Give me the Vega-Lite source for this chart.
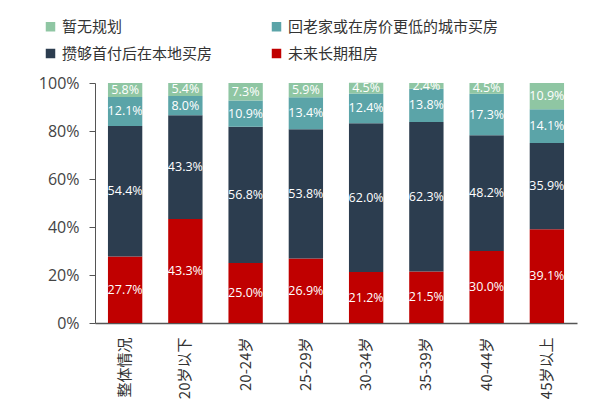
{
  "$schema": "https://vega.github.io/schema/vega-lite/v6.json",
  "width": 482,
  "height": 240,
  "autosize": {"type": "none"},
  "padding": {"left": 95, "top": 83, "right": 23, "bottom": 97},
  "background": "white",
  "config": {
    "view": {"stroke": null},
    "font": "Noto Sans CJK SC"
  },
  "data": {
    "values": [
      {"cat": "整体情况", "s": "未来长期租房", "o": 1, "v": 0.277},
      {"cat": "整体情况", "s": "攒够首付后在本地买房", "o": 2, "v": 0.544},
      {"cat": "整体情况", "s": "回老家或在房价更低的城市买房", "o": 3, "v": 0.121},
      {"cat": "整体情况", "s": "暂无规划", "o": 4, "v": 0.058},
      {"cat": "20岁以下", "s": "未来长期租房", "o": 1, "v": 0.433},
      {"cat": "20岁以下", "s": "攒够首付后在本地买房", "o": 2, "v": 0.433},
      {"cat": "20岁以下", "s": "回老家或在房价更低的城市买房", "o": 3, "v": 0.080},
      {"cat": "20岁以下", "s": "暂无规划", "o": 4, "v": 0.054},
      {"cat": "20-24岁", "s": "未来长期租房", "o": 1, "v": 0.250},
      {"cat": "20-24岁", "s": "攒够首付后在本地买房", "o": 2, "v": 0.568},
      {"cat": "20-24岁", "s": "回老家或在房价更低的城市买房", "o": 3, "v": 0.109},
      {"cat": "20-24岁", "s": "暂无规划", "o": 4, "v": 0.073},
      {"cat": "25-29岁", "s": "未来长期租房", "o": 1, "v": 0.269},
      {"cat": "25-29岁", "s": "攒够首付后在本地买房", "o": 2, "v": 0.538},
      {"cat": "25-29岁", "s": "回老家或在房价更低的城市买房", "o": 3, "v": 0.134},
      {"cat": "25-29岁", "s": "暂无规划", "o": 4, "v": 0.059},
      {"cat": "30-34岁", "s": "未来长期租房", "o": 1, "v": 0.212},
      {"cat": "30-34岁", "s": "攒够首付后在本地买房", "o": 2, "v": 0.620},
      {"cat": "30-34岁", "s": "回老家或在房价更低的城市买房", "o": 3, "v": 0.124},
      {"cat": "30-34岁", "s": "暂无规划", "o": 4, "v": 0.045},
      {"cat": "35-39岁", "s": "未来长期租房", "o": 1, "v": 0.215},
      {"cat": "35-39岁", "s": "攒够首付后在本地买房", "o": 2, "v": 0.623},
      {"cat": "35-39岁", "s": "回老家或在房价更低的城市买房", "o": 3, "v": 0.138},
      {"cat": "35-39岁", "s": "暂无规划", "o": 4, "v": 0.024},
      {"cat": "40-44岁", "s": "未来长期租房", "o": 1, "v": 0.300},
      {"cat": "40-44岁", "s": "攒够首付后在本地买房", "o": 2, "v": 0.482},
      {"cat": "40-44岁", "s": "回老家或在房价更低的城市买房", "o": 3, "v": 0.173},
      {"cat": "40-44岁", "s": "暂无规划", "o": 4, "v": 0.045},
      {"cat": "45岁以上", "s": "未来长期租房", "o": 1, "v": 0.391},
      {"cat": "45岁以上", "s": "攒够首付后在本地买房", "o": 2, "v": 0.359},
      {"cat": "45岁以上", "s": "回老家或在房价更低的城市买房", "o": 3, "v": 0.141},
      {"cat": "45岁以上", "s": "暂无规划", "o": 4, "v": 0.109}
    ]
  },
  "transform": [
    {"stack": "v", "groupby": ["cat"], "sort": [{"field": "o", "order": "ascending"}], "as": ["v0", "v1"]},
    {"calculate": "(datum.v0 + datum.v1) / 2", "as": "mid"}
  ],
  "encoding": {
    "x": {
      "field": "cat",
      "type": "nominal",
      "sort": null,
      "scale": {"paddingInner": 0.43, "paddingOuter": 0.215},
      "axis": {
        "title": null,
        "labelAngle": -90,
        "labelFontSize": 15,
        "labelColor": "#333333",
        "labelPadding": 14,
        "ticks": false,
        "domainColor": "#555555",
        "domainWidth": 1.5
      }
    }
  },
  "layer": [
    {
      "mark": {"type": "bar"},
      "encoding": {
        "y": {
          "field": "v0",
          "type": "quantitative",
          "scale": {"domain": [0, 1], "nice": false},
          "axis": {
            "title": null,
            "format": ".0%",
            "values": [0, 0.2, 0.4, 0.6, 0.8, 1],
            "grid": false,
            "labelFontSize": 16,
            "labelColor": "#444444",
            "labelFont": "Open Sans",
            "labelPadding": 10,
            "tickSize": 6,
            "tickColor": "#555555",
            "domainColor": "#555555"
          }
        },
        "y2": {"field": "v1"},
        "color": {
          "field": "s",
          "type": "nominal",
          "scale": {
            "domain": ["暂无规划", "回老家或在房价更低的城市买房", "攒够首付后在本地买房", "未来长期租房"],
            "range": ["#8fc6a3", "#5ba4a8", "#2c3d4f", "#c00000"]
          },
          "legend": {
            "title": null,
            "orient": "none",
            "direction": "horizontal",
            "legendX": -52,
            "legendY": -64,
            "columns": 2,
            "columnPadding": 56,
            "rowPadding": 11,
            "symbolType": "square",
            "symbolSize": 90,
            "labelFontSize": 15,
            "labelColor": "#333333",
            "labelLimit": 300
          }
        }
      }
    },
    {
      "mark": {"type": "text", "color": "white", "fontSize": 12.5, "font": "Open Sans"},
      "encoding": {
        "y": {"field": "mid", "type": "quantitative"},
        "text": {"field": "v", "type": "quantitative", "format": ".1%"}
      }
    }
  ]
}
